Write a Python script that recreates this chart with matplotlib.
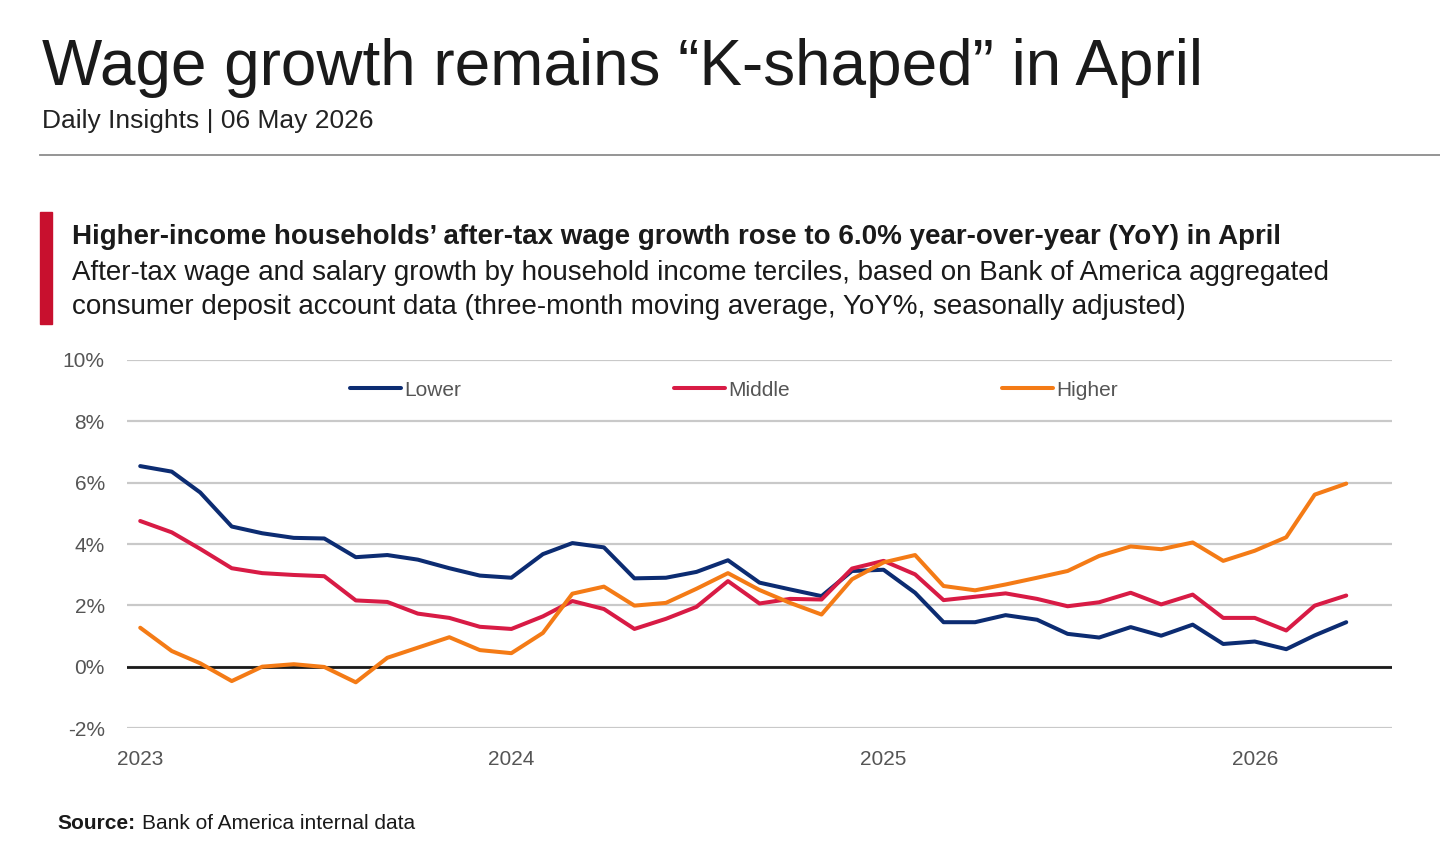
import matplotlib
matplotlib.use("Agg")
import matplotlib.pyplot as plt
from matplotlib.patches import Rectangle
from matplotlib.lines import Line2D
import pandas as pd

plt.rcParams["font.family"] = ["Liberation Sans", "DejaVu Sans"]

# monthly data, Jan 2023 - Apr 2026 (YoY %, 3m moving average)
months = pd.date_range("2023-01-01", periods=40, freq="MS")

lower = [6.54, 6.36, 5.68, 4.57, 4.35, 4.20, 4.18, 3.57, 3.64, 3.49, 3.21, 2.97,
         2.90, 3.67, 4.03, 3.89, 2.88, 2.90, 3.09, 3.47, 2.74, 2.52, 2.30, 3.12,
         3.16, 2.41, 1.45, 1.45, 1.68, 1.53, 1.07, 0.95, 1.29, 1.01, 1.37, 0.74,
         0.82, 0.57, 1.02, 1.45]
middle = [4.75, 4.38, 3.84, 3.21, 3.05, 2.99, 2.95, 2.16, 2.11, 1.73, 1.59, 1.30,
          1.23, 1.64, 2.14, 1.88, 1.23, 1.56, 1.95, 2.79, 2.06, 2.21, 2.19, 3.20,
          3.45, 3.01, 2.17, 2.28, 2.39, 2.21, 1.97, 2.10, 2.41, 2.03, 2.35, 1.59,
          1.59, 1.18, 1.99, 2.32]
higher = [1.27, 0.51, 0.11, -0.47, 0.00, 0.08, -0.01, -0.51, 0.29, 0.62, 0.96, 0.54,
          0.44, 1.10, 2.38, 2.61, 1.99, 2.08, 2.54, 3.05, 2.50, 2.08, 1.70, 2.85,
          3.40, 3.64, 2.63, 2.49, 2.68, 2.90, 3.12, 3.61, 3.92, 3.83, 4.05, 3.45,
          3.78, 4.22, 5.61, 5.97]

series_names = ["Lower", "Middle", "Higher"]
series_colors = ["#0c2c72", "#d81b45", "#f47b16"]

y_ticks = [-2, 0, 2, 4, 6, 8, 10]
x_ticks = pd.to_datetime(["2023-01-01", "2024-01-01", "2025-01-01", "2026-01-01"])
x_labels = ["2023", "2024", "2025", "2026"]

W, H = 1440, 844
fig = plt.figure(figsize=(W / 100, H / 100), dpi=100)


def fx(px):
    return px / W


def fy(py):
    return 1 - py / H


# header
fig.text(fx(42), fy(85), "Wage growth remains \u201cK-shaped\u201d in April",
         fontsize=46, color="#1a1a1a", va="baseline")
fig.text(fx(42), fy(128), "Daily Insights | 06 May 2026",
         fontsize=19, color="#222222", va="baseline")
fig.add_artist(Line2D([fx(40), 1], [fy(155), fy(155)], color="#8c8c8c", lw=1.3))

# chart heading block
fig.patches.append(Rectangle((fx(40), fy(324)), fx(12), (324 - 212) / H,
                             transform=fig.transFigure, color="#c8102e"))
fig.text(fx(72), fy(244), "Higher-income households\u2019 after-tax wage growth rose to "
         "6.0% year-over-year (YoY) in April",
         fontsize=20, fontweight="bold", color="#1a1a1a", va="baseline")
fig.text(fx(72), fy(280), "After-tax wage and salary growth by household income terciles, "
         "based on Bank of America aggregated",
         fontsize=20, color="#1a1a1a", va="baseline")
fig.text(fx(72), fy(314), "consumer deposit account data (three-month moving average, "
         "YoY%, seasonally adjusted)",
         fontsize=20, color="#1a1a1a", va="baseline")

# plot area
ax = fig.add_axes([fx(127), fy(728), fx(1392 - 127), (728 - 360) / H])
for vals, name, col in zip([lower, middle, higher], series_names, series_colors):
    ax.plot(months, vals, color=col, lw=2.9, label=name,
            solid_joinstyle="round", solid_capstyle="round", zorder=3)

ax.set_ylim(-2, 10)
ax.set_yticks(y_ticks)
ax.set_yticklabels([f"{t}%" for t in y_ticks])
ax.set_xlim(pd.Timestamp("2022-12-19"), pd.Timestamp("2026-05-16"))
ax.set_xticks(x_ticks)
ax.set_xticklabels(x_labels)
ax.grid(axis="y", color="#c9c9c9", lw=1.6)
ax.axhline(0, color="#1a1a1a", lw=2, zorder=2)
for s in ax.spines.values():
    s.set_visible(False)
ax.tick_params(axis="both", length=0, labelsize=15, labelcolor="#555555")
ax.tick_params(axis="y", pad=16)
ax.tick_params(axis="x", pad=16)

leg = ax.legend(loc="center", bbox_to_anchor=(0.48, 0.918), ncol=3, frameon=False,
                fontsize=15, handlelength=2.45, handletextpad=0.15, columnspacing=10.2)
for t in leg.get_texts():
    t.set_color("#555555")

# source
fig.text(fx(57), fy(829), "Source:", fontsize=15, fontweight="bold",
         color="#1a1a1a", va="baseline")
fig.text(fx(142), fy(829), "Bank of America internal data", fontsize=15,
         color="#1a1a1a", va="baseline")

fig.savefig("out.png", dpi=100)
